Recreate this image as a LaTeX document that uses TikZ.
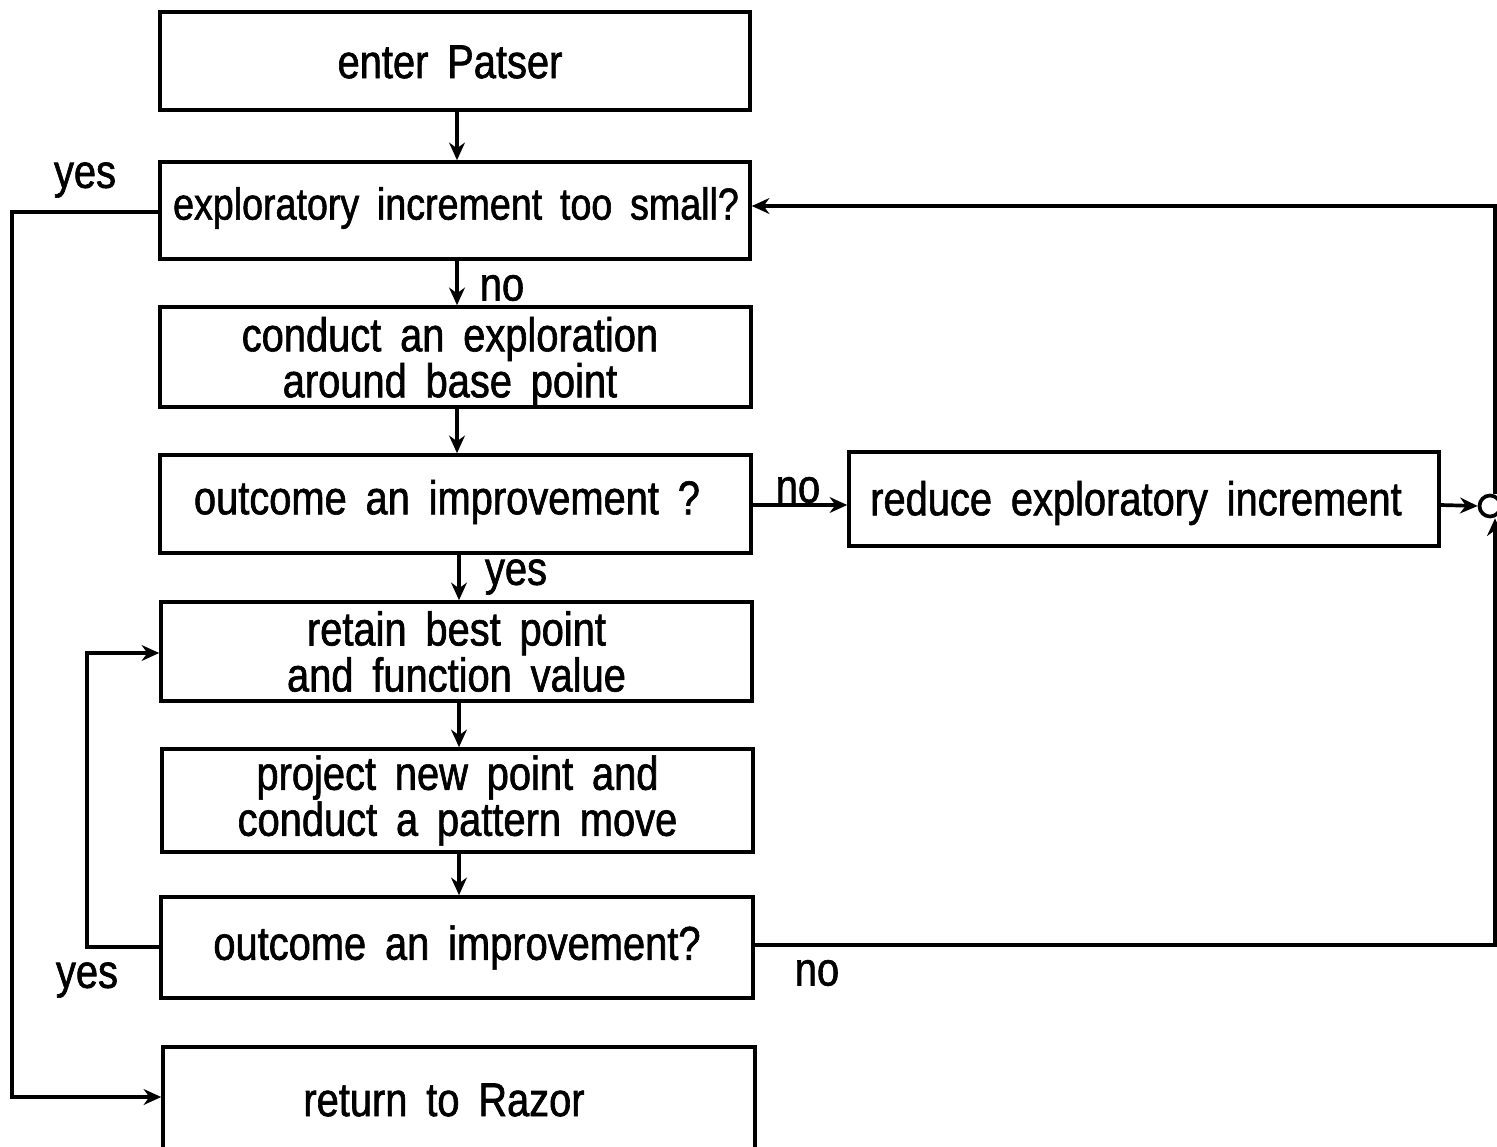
\documentclass[tikz,border=0pt]{standalone}
\usepackage{fontspec}
\setmainfont[FakeStretch=0.84,WordSpace=1.7,FakeBold=1.3]{Liberation Sans}
\usetikzlibrary{arrows.meta}
\begin{document}
\begin{tikzpicture}[x=0.02cm,y=-0.02cm,
  every node/.style={font=\fontsize{27}{25}\selectfont},
  box/.style={draw,line width=2.1pt,align=center,inner sep=0pt},
  lbl/.style={inner sep=0pt},
  wire/.style={line width=2.1pt},
  flow/.style={wire,-{Stealth[length=10pt,width=9pt]}}]
\clip (0,0) rectangle (1497,1146);

% process boxes
\node[box,minimum width=11.8cm,minimum height=1.96cm] (enter)  at (455,61)    {};
\node[lbl] (entertext) at (450,62) {enter Patser};
\node[box,minimum width=11.8cm,minimum height=1.94cm] (small)  at (455,210.5) {};
\node[lbl,font=\fontsize{25.5}{25}\selectfont] (smalltext) at (456,208) {exploratory increment too small?};
\node[box,minimum width=11.82cm,minimum height=2.0cm] (explore) at (455.5,357) {};
\node[lbl,align=center] (exploretext) at (450,362) {conduct an exploration\\around base point};
\node[box,minimum width=11.82cm,minimum height=1.96cm] (imp1)  at (455.5,504) {};
\node[lbl] (imp1text) at (447,502) {outcome an improvement ?};
\node[box,minimum width=11.8cm,minimum height=1.88cm] (reduce) at (1144,499)  {};
\node[lbl] (reducetext) at (1136,503) {reduce exploratory increment};
\node[box,minimum width=11.82cm,minimum height=1.98cm] (retain) at (456.5,651.5) {retain best point\\and function value};
\node[box,minimum width=11.82cm,minimum height=2.06cm] (project) at (457.5,800.5) {project new point and\\conduct a pattern move};
\node[box,minimum width=11.84cm,minimum height=2.02cm] (imp2)  at (457,947.5) {outcome an improvement?};
\node[box,minimum width=11.84cm,minimum height=2.12cm] (ret) at (459,1100) {};
\node[lbl] (rettext) at (444,1100) {return to Razor};

% main downward flow
\draw[flow] (enter.south -| 457,0) -- (small.north -| 457,0);
\draw[flow] (small.south -| 457,0) -- (explore.north -| 457,0);
\draw[flow] (explore.south -| 457,0) -- (imp1.north -| 457,0);
\draw[flow] (imp1.south -| 459,0) -- (retain.north -| 459,0);
\draw[flow] (retain.south -| 459,0) -- (project.north -| 459,0);
\draw[flow] (project.south -| 459,0) -- (imp2.north -| 459,0);

% junction on the right-hand return line
\coordinate (jc) at (1490,506);
\node[draw,circle,line width=2.1pt,minimum size=0.42cm,inner sep=0pt] (junc) at (jc) {};
\coordinate (rtop) at (1495,206);
\coordinate (rbot) at (1495,945);

\draw[flow] (imp1.east |- 0,505) -- (reduce.west |- 0,505);
\draw[flow] (reduce.east |- 0,505) -- (junc.west);
\draw[flow] (junc.north -| rtop) -- (rtop) -- (small.east |- rtop);
\draw[flow] (imp2.east |- rbot) -- (rbot) -- (junc.south -| rbot);

% repeat loop on success
\coordinate (l1) at (87,947);
\coordinate (l2) at (87,653);
\draw[flow] (imp2.west |- l1) -- (l1) -- (l2) -- (retain.west |- l2);

% exit when the increment is too small
\coordinate (e1) at (12,212);
\coordinate (e2) at (12,1097);
\draw[flow] (small.west |- e1) -- (e1) -- (e2) -- (ret.west |- e2);

% branch labels
\node[lbl] (y1) at (85,180)  {yes};
\node[lbl] (n1) at (502,288) {no};
\node[lbl] (y2) at (516,577) {yes};
\node[lbl] (n2) at (798,490) {no};
\node[lbl] (y3) at (87,980)  {yes};
\node[lbl] (n3) at (817,973) {no};
\end{tikzpicture}
\end{document}
